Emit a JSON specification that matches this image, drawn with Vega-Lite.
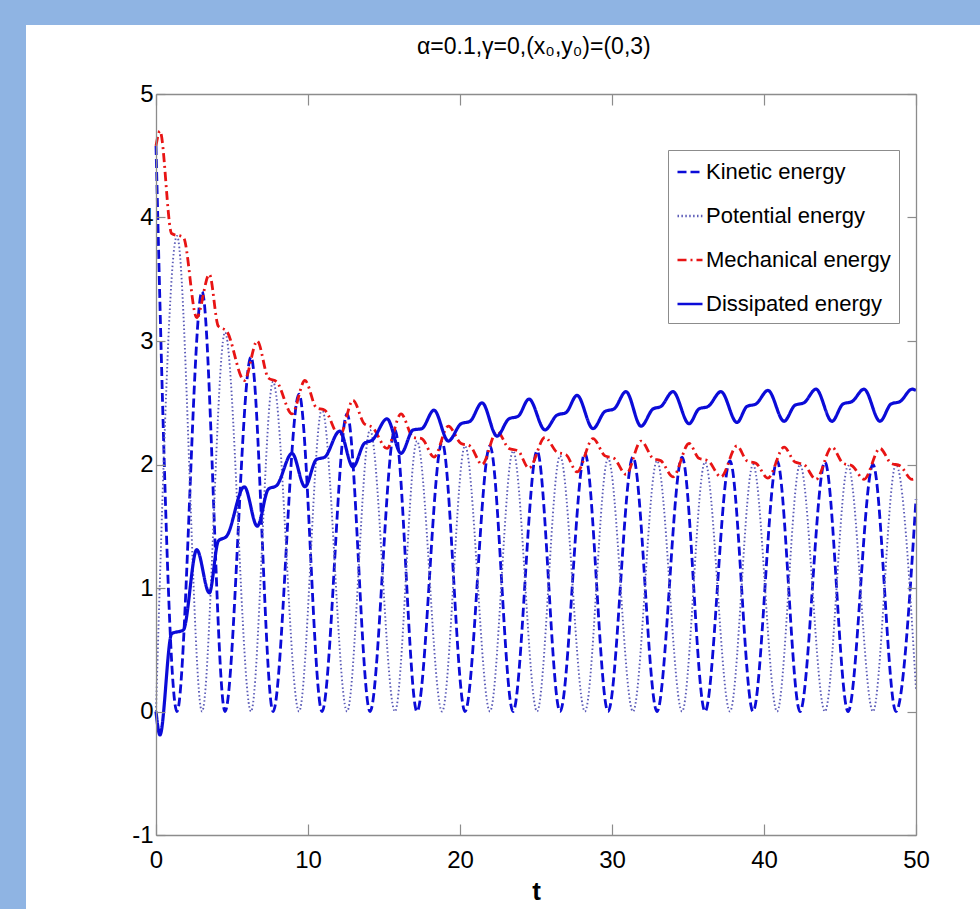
{
  "$schema": "https://vega.github.io/schema/vega-lite/v6.json",
  "width": 954,
  "height": 884,
  "autosize": {"type": "none"},
  "padding": {"left": 26, "top": 25, "right": 0, "bottom": 0},
  "background": "#8fb4e3",
  "title": {
    "text": "α=0.1,γ=0,(x₀,y₀)=(0,3)",
    "fontSize": 23,
    "font": "Liberation Sans",
    "fontWeight": "normal",
    "color": "black",
    "anchor": "start",
    "frame": "group",
    "dx": 391,
    "baseline": "alphabetic",
    "offset": -52
  },
  "config": {
    "view": {"stroke": null, "fill": "white"},
    "axis": {
      "grid": false,
      "domainColor": "#8c8c8c",
      "domainWidth": 1.3,
      "tickColor": "#8c8c8c",
      "tickWidth": 1.2,
      "labelColor": "black",
      "labelFont": "Liberation Sans",
      "labelFontSize": 24,
      "labelFlush": false,
      "labelOverlap": false,
      "titleFont": "Liberation Sans",
      "titleFontSize": 26,
      "titleFontWeight": "bold",
      "titleColor": "black"
    },
    "line": {"interpolate": "monotone"}
  },
  "data": {
    "values": [
      {"s":"K","t":0,"v":4.58},{"s":"K","t":1.38,"v":0},{"s":"K","t":3.03,"v":3.40},{"s":"K","t":4.54,"v":0},
      {"s":"K","t":6.25,"v":2.87},{"s":"K","t":7.70,"v":0},{"s":"K","t":9.41,"v":2.57},{"s":"K","t":10.92,"v":0},
      {"s":"K","t":12.57,"v":2.41},{"s":"K","t":14.08,"v":0},{"s":"K","t":15.72,"v":2.28},{"s":"K","t":17.17,"v":0},
      {"s":"K","t":18.82,"v":2.18},{"s":"K","t":20.33,"v":0},{"s":"K","t":21.97,"v":2.15},{"s":"K","t":23.49,"v":0},
      {"s":"K","t":25.07,"v":2.11},{"s":"K","t":26.58,"v":0},{"s":"K","t":28.22,"v":2.09},{"s":"K","t":29.74,"v":0},
      {"s":"K","t":31.38,"v":2.06},{"s":"K","t":32.96,"v":0},{"s":"K","t":34.61,"v":2.06},{"s":"K","t":36.12,"v":0},
      {"s":"K","t":37.76,"v":2.03},{"s":"K","t":39.28,"v":0},{"s":"K","t":40.86,"v":2.03},{"s":"K","t":42.37,"v":0},
      {"s":"K","t":44.01,"v":2.02},{"s":"K","t":45.53,"v":0},{"s":"K","t":47.17,"v":2.00},{"s":"K","t":48.68,"v":0},
      {"s":"K","t":50,"v":1.72},
      {"s":"P","t":0,"v":0},{"s":"P","t":1.38,"v":3.85},{"s":"P","t":3.03,"v":0},{"s":"P","t":4.54,"v":3.07},
      {"s":"P","t":6.25,"v":0},{"s":"P","t":7.70,"v":2.67},{"s":"P","t":9.41,"v":0},{"s":"P","t":10.92,"v":2.45},
      {"s":"P","t":12.57,"v":0},{"s":"P","t":14.08,"v":2.28},{"s":"P","t":15.72,"v":0},{"s":"P","t":17.17,"v":2.19},
      {"s":"P","t":18.82,"v":0},{"s":"P","t":20.33,"v":2.15},{"s":"P","t":21.97,"v":0},{"s":"P","t":23.49,"v":2.11},
      {"s":"P","t":25.07,"v":0},{"s":"P","t":26.58,"v":2.07},{"s":"P","t":28.22,"v":0},{"s":"P","t":29.74,"v":2.05},
      {"s":"P","t":31.38,"v":0},{"s":"P","t":32.96,"v":2.03},{"s":"P","t":34.61,"v":0},{"s":"P","t":36.12,"v":2.02},
      {"s":"P","t":37.76,"v":0},{"s":"P","t":39.28,"v":2.00},{"s":"P","t":40.86,"v":0},{"s":"P","t":42.37,"v":2.00},
      {"s":"P","t":44.01,"v":0},{"s":"P","t":45.53,"v":1.99},{"s":"P","t":47.17,"v":0},{"s":"P","t":48.68,"v":2.00},
      {"s":"P","t":50,"v":0.18},
      {"s":"M","t":0,"v":4.58},{"s":"M","t":0.26,"v":4.70},{"s":"M","t":1.03,"v":3.87},{"s":"M","t":1.80,"v":3.84},
      {"s":"M","t":2.68,"v":3.19},{"s":"M","t":3.51,"v":3.54},{"s":"M","t":4.10,"v":3.12},{"s":"M","t":4.65,"v":3.08},
      {"s":"M","t":5.81,"v":2.68},{"s":"M","t":6.66,"v":3.00},{"s":"M","t":7.39,"v":2.70},{"s":"M","t":7.94,"v":2.67},
      {"s":"M","t":8.95,"v":2.41},{"s":"M","t":9.80,"v":2.68},{"s":"M","t":10.55,"v":2.46},{"s":"M","t":11.10,"v":2.44},
      {"s":"M","t":12.08,"v":2.23},{"s":"M","t":12.96,"v":2.52},{"s":"M","t":13.70,"v":2.33},{"s":"M","t":14.25,"v":2.30},
      {"s":"M","t":15.20,"v":2.13},{"s":"M","t":16.12,"v":2.41},{"s":"M","t":16.92,"v":2.22},{"s":"M","t":17.48,"v":2.21},
      {"s":"M","t":18.29,"v":2.06},{"s":"M","t":19.23,"v":2.31},{"s":"M","t":20.07,"v":2.17},{"s":"M","t":20.66,"v":2.15},
      {"s":"M","t":21.45,"v":2.00},{"s":"M","t":22.43,"v":2.27},{"s":"M","t":23.22,"v":2.13},{"s":"M","t":23.82,"v":2.11},
      {"s":"M","t":24.54,"v":1.97},{"s":"M","t":25.59,"v":2.22},{"s":"M","t":26.38,"v":2.10},{"s":"M","t":26.97,"v":2.08},
      {"s":"M","t":27.70,"v":1.94},{"s":"M","t":28.75,"v":2.21},{"s":"M","t":29.54,"v":2.07},{"s":"M","t":30.13,"v":2.05},
      {"s":"M","t":30.92,"v":1.92},{"s":"M","t":31.91,"v":2.19},{"s":"M","t":32.70,"v":2.05},{"s":"M","t":33.22,"v":2.03},
      {"s":"M","t":34.01,"v":1.90},{"s":"M","t":35.07,"v":2.17},{"s":"M","t":35.72,"v":2.05},{"s":"M","t":36.32,"v":2.03},
      {"s":"M","t":37.17,"v":1.90},{"s":"M","t":38.22,"v":2.15},{"s":"M","t":38.88,"v":2.03},{"s":"M","t":39.47,"v":2.01},
      {"s":"M","t":40.26,"v":1.89},{"s":"M","t":41.32,"v":2.14},{"s":"M","t":42.04,"v":2.02},{"s":"M","t":42.63,"v":2.00},
      {"s":"M","t":43.42,"v":1.88},{"s":"M","t":44.47,"v":2.14},{"s":"M","t":45.20,"v":2.01},{"s":"M","t":45.79,"v":1.99},
      {"s":"M","t":46.58,"v":1.88},{"s":"M","t":47.63,"v":2.13},{"s":"M","t":48.36,"v":2.01},{"s":"M","t":48.95,"v":1.99},
      {"s":"M","t":49.74,"v":1.88},{"s":"M","t":50,"v":1.89},
      {"s":"D","t":0,"v":0},{"s":"D","t":0.26,"v":-0.19},{"s":"D","t":1.03,"v":0.63},{"s":"D","t":1.80,"v":0.66},
      {"s":"D","t":2.68,"v":1.31},{"s":"D","t":3.51,"v":0.96},{"s":"D","t":4.10,"v":1.38},{"s":"D","t":4.65,"v":1.42},
      {"s":"D","t":5.81,"v":1.82},{"s":"D","t":6.66,"v":1.50},{"s":"D","t":7.39,"v":1.80},{"s":"D","t":7.94,"v":1.83},
      {"s":"D","t":8.95,"v":2.09},{"s":"D","t":9.80,"v":1.82},{"s":"D","t":10.55,"v":2.04},{"s":"D","t":11.10,"v":2.06},
      {"s":"D","t":12.08,"v":2.27},{"s":"D","t":12.96,"v":1.98},{"s":"D","t":13.70,"v":2.17},{"s":"D","t":14.25,"v":2.20},
      {"s":"D","t":15.20,"v":2.37},{"s":"D","t":16.12,"v":2.09},{"s":"D","t":16.92,"v":2.28},{"s":"D","t":17.48,"v":2.29},
      {"s":"D","t":18.29,"v":2.44},{"s":"D","t":19.23,"v":2.19},{"s":"D","t":20.07,"v":2.33},{"s":"D","t":20.66,"v":2.35},
      {"s":"D","t":21.45,"v":2.50},{"s":"D","t":22.43,"v":2.23},{"s":"D","t":23.22,"v":2.37},{"s":"D","t":23.82,"v":2.39},
      {"s":"D","t":24.54,"v":2.53},{"s":"D","t":25.59,"v":2.28},{"s":"D","t":26.38,"v":2.40},{"s":"D","t":26.97,"v":2.42},
      {"s":"D","t":27.70,"v":2.56},{"s":"D","t":28.75,"v":2.29},{"s":"D","t":29.54,"v":2.43},{"s":"D","t":30.13,"v":2.45},
      {"s":"D","t":30.92,"v":2.59},{"s":"D","t":31.91,"v":2.31},{"s":"D","t":32.70,"v":2.45},{"s":"D","t":33.22,"v":2.47},
      {"s":"D","t":34.01,"v":2.59},{"s":"D","t":35.07,"v":2.33},{"s":"D","t":35.72,"v":2.45},{"s":"D","t":36.32,"v":2.47},
      {"s":"D","t":37.17,"v":2.59},{"s":"D","t":38.22,"v":2.34},{"s":"D","t":38.88,"v":2.47},{"s":"D","t":39.47,"v":2.49},
      {"s":"D","t":40.26,"v":2.60},{"s":"D","t":41.32,"v":2.35},{"s":"D","t":42.04,"v":2.48},{"s":"D","t":42.63,"v":2.50},
      {"s":"D","t":43.42,"v":2.61},{"s":"D","t":44.47,"v":2.35},{"s":"D","t":45.20,"v":2.49},{"s":"D","t":45.79,"v":2.51},
      {"s":"D","t":46.58,"v":2.61},{"s":"D","t":47.63,"v":2.35},{"s":"D","t":48.36,"v":2.49},{"s":"D","t":48.95,"v":2.51},
      {"s":"D","t":49.74,"v":2.61},{"s":"D","t":50,"v":2.60}
    ]
  },
  "resolve": {"axis": {"x": "independent", "y": "independent"}},
  "layer": [
    {
      "transform": [{"filter": "datum.s == 'K'"}],
      "mark": {"type": "line", "strokeWidth": 2.8},
      "encoding": {
        "x": {"field": "t", "type": "quantitative", "scale": {"domain": [0, 50], "range": [130, 890], "nice": false, "zero": false},
          "axis": {"orient": "bottom", "offset": -74, "zindex": 1, "values": [0, 10, 20, 30, 40, 50], "title": "t", "tickSize": -11, "labelPadding": 24, "titlePadding": 6}},
        "y": {"field": "v", "type": "quantitative", "scale": {"domain": [-1, 5], "range": [810, 69], "nice": false, "zero": false},
          "axis": {"orient": "left", "offset": -130, "zindex": 1, "values": [-1, 0, 1, 2, 3, 4, 5], "title": null, "tickSize": -9, "labelPadding": 12, "labelExpr": "'' + datum.value"}},
        "color": {"field": "s", "type": "nominal",
          "scale": {"domain": ["K", "P", "M", "D"], "range": ["#0b0bd8", "#5c5cb8", "#e81414", "#0b0bd8"]},
          "legend": {
            "orient": "none", "legendX": 642, "legendY": 125, "title": null,
            "strokeColor": "#8c8c8c", "fillColor": "white", "padding": 8,
            "symbolType": "stroke", "symbolSize": 625, "symbolStrokeWidth": 2.6,
            "labelFont": "Liberation Sans", "labelLimit": 400,
            "labelFontSize": 22, "labelColor": "black", "rowPadding": 19, "labelOffset": 2,
            "labelExpr": "datum.label == 'K' ? 'Kinetic energy' : datum.label == 'P' ? 'Potential energy' : datum.label == 'M' ? 'Mechanical energy' : 'Dissipated energy'"
          }},
        "strokeDash": {"field": "s", "type": "nominal",
          "scale": {"domain": ["K", "P", "M", "D"], "range": [[9, 4], [1.5, 2.4], [9, 4, 2, 4], [1, 0]]}}
      }
    },
    {
      "transform": [{"filter": "datum.s == 'P'"}],
      "mark": {"type": "line", "strokeWidth": 1.9},
      "encoding": {
        "x": {"field": "t", "type": "quantitative", "scale": {"domain": [0, 50], "range": [130, 890], "nice": false, "zero": false},
          "axis": {"orient": "top", "offset": -69, "zindex": 1, "values": [0, 10, 20, 30, 40, 50], "labels": false, "title": null, "tickSize": -11}},
        "y": {"field": "v", "type": "quantitative", "scale": {"domain": [-1, 5], "range": [810, 69], "nice": false, "zero": false},
          "axis": {"orient": "right", "offset": -64, "zindex": 1, "values": [-1, 0, 1, 2, 3, 4, 5], "labels": false, "title": null, "tickSize": -9}},
        "color": {"field": "s", "type": "nominal"},
        "strokeDash": {"field": "s", "type": "nominal"}
      }
    },
    {
      "transform": [{"filter": "datum.s == 'M'"}],
      "mark": {"type": "line", "strokeWidth": 2.8},
      "encoding": {
        "x": {"field": "t", "type": "quantitative", "axis": null},
        "y": {"field": "v", "type": "quantitative", "axis": null},
        "color": {"field": "s", "type": "nominal"},
        "strokeDash": {"field": "s", "type": "nominal"}
      }
    },
    {
      "transform": [{"filter": "datum.s == 'D'"}],
      "mark": {"type": "line", "strokeWidth": 3.2},
      "encoding": {
        "x": {"field": "t", "type": "quantitative", "axis": null},
        "y": {"field": "v", "type": "quantitative", "axis": null},
        "color": {"field": "s", "type": "nominal"},
        "strokeDash": {"field": "s", "type": "nominal"}
      }
    }
  ]
}
